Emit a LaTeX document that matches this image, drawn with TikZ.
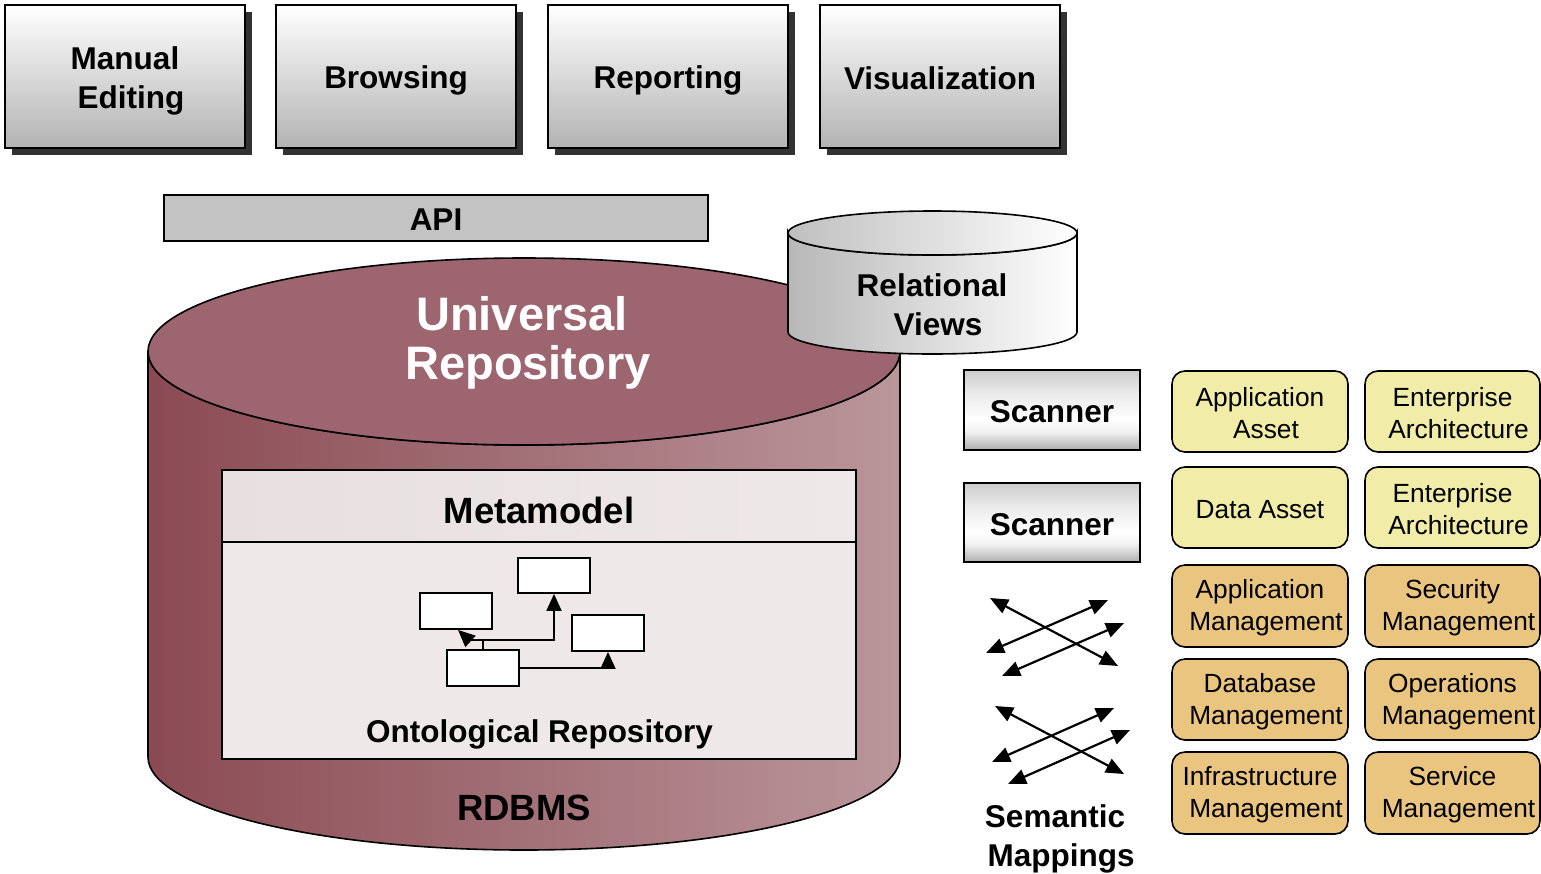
\documentclass[tikz,border=0pt]{standalone}
\usepackage{fontspec}
\setmainfont{Liberation Sans}
\usetikzlibrary{arrows.meta,shadows,calc}
\definecolor{cyldark}{RGB}{139,74,83}
\definecolor{cyllight}{RGB}{186,150,155}
\definecolor{cyltop}{RGB}{156,101,112}
\definecolor{metafill}{RGB}{239,232,233}
\definecolor{metahead}{RGB}{231,223,224}
\definecolor{yelbox}{RGB}{241,236,167}
\definecolor{orgbox}{RGB}{233,197,127}
\definecolor{apigray}{RGB}{195,195,195}
\definecolor{shadowgray}{RGB}{50,50,50}
\pgfdeclareverticalshading{scanshade}{100bp}{color(0bp)=(black!32); color(25bp)=(black!32); color(36bp)=(black!6); color(44bp)=(white); color(60bp)=(black!8); color(75bp)=(black!20); color(100bp)=(black!20)}
\tikzset{
  bigbold/.style={font=\fontsize{31.5}{39}\selectfont\bfseries, align=center},
  hugebold/.style={font=\fontsize{47}{49}\selectfont\bfseries, align=center, text=white},
  midbold/.style={font=\fontsize{36.5}{40}\selectfont\bfseries, align=center},
  smalltxt/.style={font=\fontsize{26.3}{32}\selectfont, align=center},
  btxt/.style={label={[bigbold, yshift=-4pt]center:#1}},
  btxtb/.style={label={[bigbold, yshift=-2pt]center:#1}},
  stxt/.style={label={[smalltxt, yshift=-2pt]center:#1}},
  topbox/.style={draw=black, line width=1.6pt, top color=white, bottom color=black!30,
     minimum width=240pt, minimum height=143pt, inner sep=0pt,
     drop shadow={shadow xshift=7pt, shadow yshift=-7pt, fill=shadowgray, opacity=1}},
  scanbox/.style={draw=black, line width=1.6pt, shading=scanshade,
     minimum width=176pt, minimum height=80pt, inner sep=0pt},
  rbox/.style={draw=black, line width=1.6pt, rounded corners=13pt, minimum width=176pt,
     minimum height=81pt, inner sep=0pt},
  ybox/.style={rbox, fill=yelbox},
  obox/.style={rbox, fill=orgbox},
  mini/.style={draw=black, line width=1.8pt, fill=white, minimum width=72pt, minimum height=36pt, inner sep=0pt},
  tri/.style={-{Triangle[length=17pt,width=15pt]}, line width=1.8pt},
  dbl/.style={{Triangle[length=18pt,width=15pt]}-{Triangle[length=18pt,width=15pt]}, line width=2.2pt},
}
\newcommand{\nl}{\\\hspace*{12pt}}
\begin{document}
\begin{tikzpicture}[x=1pt,y=-1pt]
\useasboundingbox (0,0) rectangle (1541,873);

% top boxes
\node[topbox, btxt={Manual\nl Editing}] (manual) at (125,76.5) {};
\node[topbox, btxt={Browsing}] (browse) at (396,76.5) {};
\node[topbox, btxt={Reporting}] (report) at (668,76.5) {};
\node[topbox, btxtb={Visualization}] (visual) at (940,76.5) {};

% API
\node[draw=black, line width=1.6pt, fill=apigray, minimum width=544pt, minimum height=46pt, inner sep=0pt, btxtb={API}] (api) at (436,218) {};

% universal repository cylinder
\path[draw=black, line width=1.6pt, left color=cyldark, right color=cyllight]
  (148,351.5) -- (148,757) arc[start angle=180, end angle=0, x radius=376, y radius=93]
  -- (900,351.5) arc[start angle=0, end angle=180, x radius=376, y radius=93.5] -- cycle;
\draw[line width=1.6pt, fill=cyltop] (524,351.5) ellipse[x radius=376, y radius=93.5];
\node[hugebold] (univ) at (522,342.5) {Universal\nl Repository};

% relational views cylinder
\path[draw=black, line width=1.6pt, left color=black!28, right color=white]
  (788,233) -- (788,332) arc[start angle=180, end angle=0, x radius=144.5, y radius=22]
  -- (1077,233) arc[start angle=0, end angle=180, x radius=144.5, y radius=22] -- cycle;
\path[draw=black, line width=1.6pt, left color=black!25, right color=white]
  (932.5,233) ellipse[x radius=144.5, y radius=22];
\node[bigbold] (relv) at (932,305) {Relational\nl Views};

% metamodel box
\node[draw=black, line width=1.6pt, fill=metafill, minimum width=634pt, minimum height=289pt, inner sep=0pt] (onto) at (539,614.5) {};
\node[draw=black, line width=1.6pt, left color=metahead, right color=metafill, minimum width=634pt, minimum height=72pt, inner sep=0pt, label={[midbold, yshift=-4pt]center:Metamodel}] (meta) at (539,506) {};
\node[bigbold] (ontotxt) at (539.5,734) {Ontological Repository};
\node[midbold] (rdbms) at (524,808) {RDBMS};

% mini diagram
\node[mini] (ma) at (456,611) {};
\node[mini, minimum height=35pt] (mb) at (554,575.5) {};
\node[mini] (mc) at (608,633) {};
\node[mini] (md) at (483,668) {};
\coordinate (j1) at (483,640);
\coordinate (jl) at (469,640);
\draw[line width=1.8pt] (md.north) -- (j1);
\draw[tri] (jl) -| (mb.south);
\draw[tri] (jl) -- ($(ma.south)+(2,0)$);
\draw[tri] (md.east) -| (mc.south);

% scanners
\node[scanbox, btxtb={Scanner}] (scan1) at (1052,410) {};
\node[scanbox, minimum height=79pt, btxtb={Scanner}] (scan2) at (1052,522.5) {};

% semantic mapping arrows
\coordinate (a1s) at (990,598); \coordinate (a1e) at (1118,666);
\coordinate (b1s) at (986,653); \coordinate (b1e) at (1108,600);
\coordinate (c1s) at (1002,676); \coordinate (c1e) at (1124,623);
\coordinate (a2s) at (995,706); \coordinate (a2e) at (1124,774);
\coordinate (b2s) at (992,762); \coordinate (b2e) at (1114,708);
\coordinate (c2s) at (1008,784); \coordinate (c2e) at (1130,730);
\draw[dbl] (a1s) -- (a1e);
\draw[dbl] (b1s) -- (b1e);
\draw[dbl] (c1s) -- (c1e);
\draw[dbl] (a2s) -- (a2e);
\draw[dbl] (b2s) -- (b2e);
\draw[dbl] (c2s) -- (c2e);
\node[bigbold] (sem) at (1055,839) {Semantic\nl Mappings};

% right boxes
\node[ybox, stxt={Application\nl Asset}] (appasset) at (1260,411.5) {};
\node[ybox, minimum width=175pt, stxt={Enterprise\nl Architecture}] (ea1) at (1452.5,411.5) {};
\node[ybox, stxt={Data Asset}] (dataasset) at (1260,507.5) {};
\node[ybox, minimum width=175pt, stxt={Enterprise\nl Architecture}] (ea2) at (1452.5,507.5) {};
\node[obox, minimum height=82pt, stxt={Application\nl Management}] (appmgmt) at (1260,606) {};
\node[obox, minimum height=82pt, minimum width=175pt, stxt={Security\nl Management}] (secmgmt) at (1452.5,606) {};
\node[obox, stxt={Database\nl Management}] (dbmgmt) at (1260,699.5) {};
\node[obox, minimum width=175pt, stxt={Operations\nl Management}] (opsmgmt) at (1452.5,699.5) {};
\node[obox, minimum height=82pt, stxt={Infrastructure\nl Management}] (infmgmt) at (1260,793) {};
\node[obox, minimum height=82pt, minimum width=175pt, stxt={Service\nl Management}] (svcmgmt) at (1452.5,793) {};
\end{tikzpicture}
\end{document}
